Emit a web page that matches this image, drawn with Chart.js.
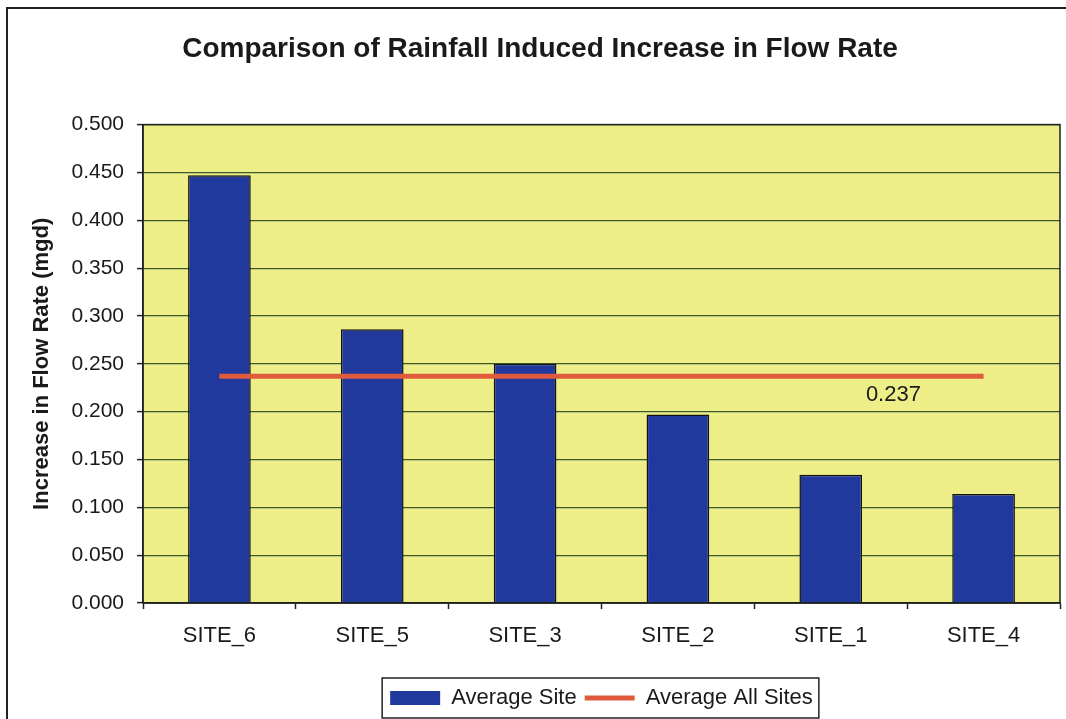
<!DOCTYPE html>
<html>
<head>
<meta charset="utf-8">
<title>Rainfall Induced Increase in Flow Rate</title>
<script src="https://cdn.jsdelivr.net/npm/chart.js@4.4.0/dist/chart.umd.min.js"></script>
<style>
    body { margin: 0; background: #fff; }
    #wrap { position: relative; width: 1066px; height: 719px; overflow: hidden; }
    #frame {
        position: absolute; left: 6px; top: 7px; width: 1100px; height: 800px;
        border-left: 2px solid #1e2420; border-top: 2px solid #1e2420;
    }
    canvas { position: absolute; left: 0; top: 0; }
</style>
</head>
<body>
<div id="wrap">
    <div id="frame"></div>
    <canvas id="flowChart" width="1066" height="719"></canvas>
</div>
<script>
// Sites, per-site increase and overall average (mgd)
const sites = ['SITE_6', 'SITE_5', 'SITE_3', 'SITE_2', 'SITE_1', 'SITE_4'];
const averageSite = [0.447, 0.286, 0.250, 0.197, 0.134, 0.114];
const averageAllSites = [0.237, 0.237, 0.237, 0.237, 0.237, 0.237];
const averageLabel = '0.237';
const yTickValues = [0, 0.05, 0.10, 0.15, 0.20, 0.25, 0.30, 0.35, 0.40, 0.45, 0.50];

const FONT = '"Liberation Sans", Arial, Helvetica, sans-serif';
const TEXT = '#1a1a1a';
Chart.defaults.font.family = FONT;
Chart.defaults.color = TEXT;

// Yellow plot background + dark outline around the plot area
const plotFrame = {
    id: 'plotFrame',
    beforeDraw(chart) {
        const { ctx, chartArea: a } = chart;
        ctx.save();
        ctx.fillStyle = '#eeee88';
        ctx.fillRect(a.left, a.top, a.right - a.left, a.bottom - a.top);
        ctx.restore();
    },
    afterDraw(chart) {
        const { ctx, chartArea: a } = chart;
        ctx.save();
        ctx.strokeStyle = '#1c1f1c';
        ctx.lineWidth = 1.5;
        ctx.strokeRect(a.left, a.top, a.right - a.left, a.bottom - a.top);
        ctx.restore();
    }
};

// Value label under the average line
const averageText = {
    id: 'averageText',
    afterDatasetsDraw(chart) {
        const { ctx, scales: { x, y } } = chart;
        ctx.save();
        ctx.font = '22px ' + FONT;
        ctx.fillStyle = TEXT;
        ctx.textAlign = 'center';
        ctx.textBaseline = 'middle';
        ctx.fillText(averageLabel, x.getPixelForValue(4.41), y.getPixelForValue(averageAllSites[4]) + 19);
        ctx.restore();
    }
};

// Box drawn around the legend items
const legendBox = {
    id: 'legendBox',
    afterDraw(chart) {
        const boxes = chart.legend && chart.legend.legendHitBoxes;
        if (!boxes || !boxes.length) return;
        const left = Math.min(...boxes.map(b => b.left)) - 8;
        const right = Math.max(...boxes.map(b => b.left + b.width)) + 6;
        const top = Math.min(...boxes.map(b => b.top)) - 9;
        const bottom = Math.max(...boxes.map(b => b.top + b.height)) + 9;
        const ctx = chart.ctx;
        ctx.save();
        ctx.strokeStyle = '#222';
        ctx.lineWidth = 1.5;
        ctx.strokeRect(left, top, right - left, bottom - top);
        ctx.restore();
    }
};

new Chart(document.getElementById('flowChart'), {
    data: {
        labels: sites,
        datasets: [{
            type: 'bar',
            label: 'Average Site',
            data: averageSite,
            backgroundColor: '#21399d',
            borderColor: '#111',
            borderWidth: 1.5,
            barPercentage: 0.41,
            categoryPercentage: 1,
            pointStyle: 'rect',
            order: 2
        }, {
            type: 'line',
            label: 'Average All Sites',
            data: averageAllSites,
            borderColor: '#df5b3c',
            backgroundColor: '#df5b3c',
            borderWidth: 5,
            pointRadius: 0,
            pointStyle: 'line',
            order: 1
        }]
    },
    options: {
        responsive: false,
        animation: false,
        layout: { padding: { left: 20, right: 6, top: 0, bottom: 0 } },
        plugins: {
            title: {
                display: true,
                text: 'Comparison of Rainfall Induced Increase in Flow Rate',
                color: TEXT,
                font: { size: 28, weight: 'bold' },
                padding: { top: 32, bottom: 59 }
            },
            legend: {
                position: 'bottom',
                fullSize: false,
                labels: {
                    color: TEXT,
                    font: { size: 22 },
                    usePointStyle: true,
                    pointStyleWidth: 50,
                    boxHeight: 14,
                    padding: 8,
                    sort: (a, b) => a.datasetIndex - b.datasetIndex,
                    generateLabels(chart) {
                        const items = Chart.defaults.plugins.legend.labels.generateLabels(chart);
                        items.forEach(it => { if (it.datasetIndex === 0) it.lineWidth = 0; });
                        return items;
                    }
                }
            },
            tooltip: { enabled: false }
        },
        scales: {
            x: {
                grid: { display: true, drawOnChartArea: false, offset: true, tickLength: 6, tickColor: '#222', tickWidth: 1.5 },
                border: { color: '#1c1f1c', width: 1.5 },
                ticks: { color: TEXT, font: { size: 22 }, padding: 14, maxRotation: 0 },
                afterFit(scale) { scale.height = 76; }
            },
            y: {
                min: 0,
                max: 0.5,
                afterBuildTicks(axis) { axis.ticks = yTickValues.map(v => ({ value: v })); },
                grid: { color: '#3b5a2c', lineWidth: 1.2, tickLength: 6, tickColor: '#222', tickWidth: 1.5 },
                border: { color: '#1c1f1c', width: 1.5 },
                ticks: {
                    color: TEXT,
                    font: { size: 21 },
                    padding: 13,
                    callback: v => v.toFixed(3)
                },
                title: {
                    display: true,
                    text: 'Increase in Flow Rate (mgd)',
                    color: TEXT,
                    font: { size: 22, weight: 'bold' },
                    padding: { top: 9, bottom: 0 }
                },
                afterFit(scale) { scale.width = 123; }
            }
        }
    },
    plugins: [plotFrame, averageText, legendBox]
});
</script>
</body>
</html>
